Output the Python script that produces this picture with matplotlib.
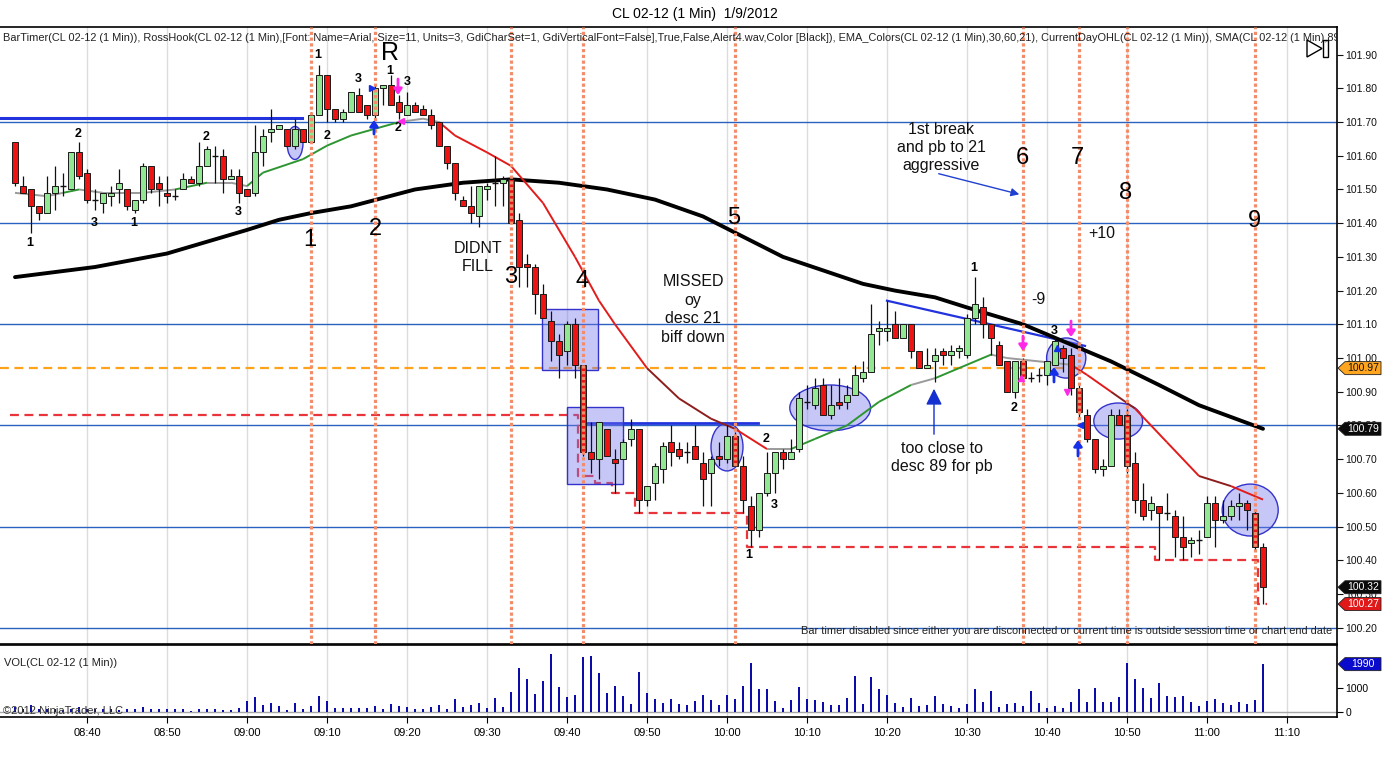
import matplotlib
matplotlib.use('Agg')
import matplotlib.pyplot as plt
import matplotlib.transforms as mtransforms
from matplotlib.patches import Rectangle, Ellipse, Polygon
from matplotlib.collections import LineCollection

plt.rcParams['font.family'] = ['Liberation Sans', 'DejaVu Sans']

# ---------------- data (1-minute bars, 08:31 .. 11:07) ----------------
opens = [101.64,101.51,101.50,101.45,101.43,101.49,101.51,101.50,101.61,101.55,
         101.47,101.46,101.48,101.50,101.50,101.44,101.47,101.57,101.52,101.49,
         101.48,101.50,101.53,101.52,101.57,101.60,101.60,101.53,101.54,101.50,
         101.49,101.61,101.67,101.68,101.68,101.63,101.68,101.64,101.72,101.84,
         101.74,101.71,101.73,101.78,101.75,101.72,101.80,101.81,101.76,101.72,
         101.75,101.74,101.72,101.70,101.63,101.58,101.47,101.45,101.42,101.50,
         101.52,101.52,101.53,101.41,101.28,101.27,101.19,101.11,101.05,101.02,
         101.10,100.98,100.72,100.70,100.79,100.70,100.70,100.76,100.79,100.58,
         100.63,100.67,100.75,100.73,100.72,100.74,100.69,100.66,100.71,100.70,
         100.77,100.68,100.56,100.49,100.60,100.66,100.72,100.70,100.73,100.87,
         100.86,100.92,100.83,100.87,100.87,100.89,100.94,100.96,101.08,101.08,
         101.10,101.06,101.10,101.02,100.97,100.99,101.02,101.01,101.02,101.01,
         101.12,101.15,101.10,101.04,100.99,100.90,100.99,100.94,100.95,100.95,
         100.98,101.03,101.01,100.91,100.83,100.76,100.67,100.68,100.83,100.83,
         100.69,100.58,100.55,100.56,100.54,100.53,100.47,100.45,100.46,100.47,
         100.57,100.52,100.53,100.56,100.57,100.54,100.44]
highs = [101.64,101.54,101.50,101.45,101.54,101.57,101.55,101.61,101.64,101.56,
         101.50,101.49,101.51,101.56,101.50,101.47,101.58,101.57,101.54,101.54,
         101.50,101.55,101.54,101.64,101.63,101.63,101.62,101.56,101.56,101.50,
         101.69,101.68,101.74,101.69,101.68,101.71,101.68,101.73,101.87,101.84,
         101.74,101.74,101.79,101.80,101.75,101.81,101.81,101.84,101.78,101.79,
         101.76,101.75,101.74,101.70,101.63,101.58,101.48,101.51,101.51,101.52,
         101.60,101.54,101.54,101.43,101.31,101.28,101.22,101.14,101.07,101.11,
         101.12,100.98,100.81,100.81,100.79,100.73,100.76,100.82,100.79,100.62,
         100.69,100.75,100.80,100.75,100.75,100.80,100.72,100.71,100.75,100.80,
         100.78,100.71,100.59,100.60,100.72,100.72,100.73,100.76,100.90,100.92,
         100.94,100.94,100.92,100.94,100.92,100.98,100.99,101.16,101.11,101.17,
         101.14,101.10,101.10,101.02,101.03,101.03,101.03,101.04,101.04,101.13,
         101.24,101.18,101.10,101.05,100.99,100.99,101.00,100.96,100.97,100.99,
         101.06,101.04,101.03,100.92,100.85,100.76,100.70,100.85,100.85,100.85,
         100.72,100.63,100.59,100.56,100.60,100.55,100.53,100.47,100.49,100.59,
         100.59,100.58,100.58,100.60,100.58,100.55,100.45]
lows = [101.51,101.49,101.37,101.41,101.43,101.44,101.48,101.50,101.53,101.46,
        101.44,101.43,101.45,101.46,101.44,101.43,101.46,101.49,101.45,101.46,
        101.47,101.50,101.52,101.51,101.57,101.52,101.49,101.53,101.46,101.48,
        101.48,101.57,101.64,101.68,101.63,101.62,101.64,101.64,101.72,101.70,
        101.70,101.70,101.73,101.73,101.71,101.71,101.75,101.75,101.71,101.72,
        101.73,101.72,101.68,101.63,101.56,101.47,101.45,101.40,101.39,101.47,
        101.45,101.45,101.40,101.21,101.21,101.13,101.12,100.99,100.94,100.98,
        100.94,100.71,100.66,100.64,100.71,100.60,100.70,100.74,100.54,100.56,
        100.58,100.63,100.68,100.70,100.69,100.70,100.56,100.56,100.68,100.69,
        100.68,100.54,100.44,100.47,100.59,100.60,100.67,100.70,100.72,100.85,
        100.85,100.83,100.82,100.85,100.85,100.89,100.93,100.96,101.04,101.05,
        101.06,101.06,101.00,100.97,100.97,100.93,100.98,100.98,101.00,101.00,
        101.10,101.06,101.01,100.98,100.90,100.88,100.93,100.93,100.93,100.92,
        100.98,100.96,100.89,100.82,100.75,100.66,100.65,100.68,100.80,100.66,
        100.54,100.52,100.52,100.40,100.52,100.41,100.40,100.41,100.42,100.47,
        100.44,100.51,100.52,100.52,100.49,100.43,100.27]
closes = [101.52,101.49,101.45,101.43,101.49,101.51,101.51,101.61,101.54,101.47,
          101.47,101.49,101.49,101.52,101.45,101.47,101.57,101.50,101.50,101.48,
          101.48,101.53,101.52,101.57,101.62,101.60,101.53,101.54,101.49,101.48,
          101.61,101.66,101.68,101.69,101.63,101.68,101.64,101.72,101.84,101.74,
          101.71,101.73,101.79,101.73,101.72,101.80,101.81,101.75,101.73,101.75,
          101.73,101.72,101.69,101.63,101.58,101.49,101.45,101.43,101.51,101.51,
          101.52,101.53,101.40,101.27,101.27,101.19,101.12,101.05,101.01,101.10,
          100.98,100.72,100.70,100.81,100.71,100.69,100.75,100.79,100.58,100.62,
          100.68,100.74,100.72,100.71,100.72,100.70,100.64,100.70,100.70,100.77,
          100.68,100.58,100.49,100.60,100.66,100.72,100.70,100.72,100.88,100.87,
          100.91,100.83,100.86,100.86,100.89,100.95,100.96,101.07,101.09,101.09,
          101.06,101.10,101.02,100.97,100.98,101.01,101.01,101.02,101.03,101.12,
          101.16,101.10,101.06,100.98,100.90,100.99,100.94,100.94,100.95,100.99,
          101.05,101.00,100.91,100.84,100.76,100.67,100.68,100.83,100.80,100.68,
          100.58,100.53,100.57,100.54,100.54,100.47,100.44,100.46,100.46,100.57,
          100.52,100.53,100.56,100.57,100.55,100.44,100.32]
volumes = [200,150,310,150,120,150,100,150,200,150,
           120,150,150,100,150,140,210,140,140,140,
           140,140,70,140,140,140,110,100,180,470,
           640,300,400,260,100,390,140,260,680,470,
           180,180,180,180,180,240,140,350,250,220,
           140,140,220,300,140,550,220,300,400,180,
           600,220,850,1840,1390,760,1300,2420,1050,640,
           720,2300,2340,1640,800,1100,680,350,1680,800,
           550,400,550,350,300,470,720,510,300,720,
           550,1100,2050,970,970,470,180,510,1050,550,
           510,430,300,300,600,1510,350,1470,970,720,
           390,220,600,260,300,680,350,260,180,350,
           970,430,890,220,350,390,260,890,390,180,
           260,180,430,970,430,1010,430,430,640,2050,
           1390,1010,600,1220,680,640,680,430,260,470,
           550,390,300,430,350,510,1990]

# EMA(21): bar index, value, colour of the segment ending there
ema_idx = [0,4,6,8,11,16,20,24,27,29,31,36,39,42,45,48,51,53,55,59,62,66,70,73,75,
           79,83,87,90,94,97,100,104,108,112,115,118,122,124,128,132,134,137,140,144,148,152,156]
ema_val = [101.49,101.48,101.49,101.50,101.49,101.49,101.50,101.52,101.52,101.51,101.55,
           101.59,101.63,101.66,101.68,101.70,101.71,101.70,101.66,101.61,101.57,101.46,
           101.30,101.17,101.10,100.97,100.88,100.82,100.79,100.73,100.73,100.76,100.80,
           100.87,100.92,100.94,100.97,101.01,101.00,100.99,100.98,100.95,100.90,100.85,
           100.75,100.65,100.62,100.58]
ema_seg = ['k','k','g','k','k','k','g','k','k','g','g','g','g','g','g','k','k',
           'r','r','r','r','r','r','r','r','d','d','d','r','k','g','g','g','g','k',
           'g','g','k','k','k','r','r','d','r','r','d','r']

# SMA(89)
sma_idx = [0,10,19,29,33,37,42,50,56,62,68,74,80,86,91,96,101,106,110,115,119,126,132,137,143,148,156]
sma_val = [101.24,101.27,101.31,101.38,101.41,101.43,101.45,101.50,101.52,101.53,101.52,101.50,
           101.47,101.42,101.36,101.30,101.26,101.22,101.20,101.18,101.15,101.10,101.04,
           100.99,100.92,100.86,100.79]

# current-day low (stepped) and current-day open
cdl_idx = [-0.6, 70.4, 72.5, 74.6, 77.5, 91.5, 142.5, 155.4, 156.5]
cdl_val = [100.83, 100.65, 100.63, 100.60, 100.54, 100.44, 100.40, 100.27, 100.27]
day_open = 100.97

time_labels = ['08:40','08:50','09:00','09:10','09:20','09:30','09:40','09:50',
               '10:00','10:10','10:20','10:30','10:40','10:50','11:00','11:10']
time_pos = [9 + 10 * k for k in range(len(time_labels))]

marker_bars = [37, 45, 62, 71, 90, 126, 133, 139, 155]
price_lines = [101.70, 101.40, 101.10, 100.80, 100.50, 100.20]

# ---------------- figure ----------------
W, H = 1391, 763
fig = plt.figure(figsize=(W / 100, H / 100), dpi=100)
fig.patch.set_facecolor('white')

def fx(x):
    return x / W

def fy(y):
    return 1 - y / H

ax = fig.add_axes([0, fy(644), fx(1337), (644 - 27) / H])
axv = fig.add_axes([0, fy(717), fx(1337), (717 - 645) / H], sharex=ax)

YTOP, YBOT = 101.982, 100.1516
XL, XR = -1.875, 165.25
ax.set_xlim(XL, XR)
ax.set_ylim(YBOT, YTOP)
PPU = (644 - 27) / (YTOP - YBOT)

def D(x, y):
    return ((x - 15) / 8.0, 101.10 + (324.3 - y) / 337.1)

n = len(closes)
xs = list(range(n))

# grid
for tp in time_pos:
    ax.axvline(tp, color='#DCDCDC', lw=1, zorder=0)
    axv.axvline(tp, color='#DCDCDC', lw=1, zorder=0)

for pl in price_lines:
    ax.axhline(pl, color='#2A62C0', lw=1, zorder=1)

# day open / low lines
ax.plot([XL, 156.3], [day_open, day_open], color='#FFA31A', lw=1.6, ls=(0, (4, 2.5)), zorder=2)
ax.plot(cdl_idx, cdl_val, color='#E8343A', lw=1.6, ls=(0, (4, 2.5)), drawstyle='steps-post', zorder=2)

# drawn lines
ax.plot([XL, 35.9], [101.712, 101.712], color='#2233DD', lw=2.2, zorder=3)
ax.plot([71.25, 92.9], [100.807, 100.807], color='#2233DD', lw=2.0, zorder=3)
ax.plot([109, 133.75], [101.17, 101.036], color='#2233DD', lw=1.6, zorder=3)

# rectangles and ellipses
fc = (0.45, 0.45, 0.92, 0.40)
ec = (0.2, 0.2, 0.8)
for (x0, x1, y0, y1) in [(65.9, 72.9, 100.964, 101.145), (69.0, 76.0, 100.626, 100.855)]:
    ax.add_patch(Rectangle((x0, y0), x1 - x0, y1 - y0, fc=fc, ec=ec, lw=1, zorder=4))
for (cx, cy, w, h) in [(35.0, 101.638, 2.0, 0.098), (89.0, 100.736, 4.0, 0.142),
                       (101.9, 100.852, 10.1, 0.136), (131.4, 101.000, 4.9, 0.119),
                       (137.9, 100.813, 6.1, 0.107), (154.4, 100.549, 7.0, 0.154)]:
    ax.add_patch(Ellipse((cx, cy), w, h, fc=fc, ec=ec, lw=1, zorder=4))

# moving averages
ax.plot(sma_idx, sma_val, color='black', lw=2.8, zorder=5, solid_capstyle='round',
        solid_joinstyle='round')
cmap = {'g': '#2E9630', 'r': '#E21B1B', 'd': '#8E1E1E', 'k': '#9A9A9A'}
segs = [[(ema_idx[k], ema_val[k]), (ema_idx[k + 1], ema_val[k + 1])] for k in range(len(ema_idx) - 1)]
ax.add_collection(LineCollection(segs, colors=[cmap[c] for c in ema_seg], linewidths=1.4, zorder=5))

# candles
bw = 0.75
for i in xs:
    o, h, l, c = opens[i], highs[i], lows[i], closes[i]
    ax.vlines(i, l, h, color='#111111', lw=0.9, zorder=6)
    if abs(c - o) < 0.004:
        ax.hlines(o, i - bw / 2, i + bw / 2, color='#111111', lw=1.0, zorder=7)
    else:
        col = '#92E892' if c > o else '#EE1414'
        ax.add_patch(Rectangle((i - bw / 2, min(o, c)), bw, abs(c - o), fc=col,
                               ec='#1A1A1A', lw=0.7, zorder=7))

# vertical marker lines
for mb in marker_bars:
    ax.axvline(mb, color='#F28C6A', lw=2.3, ls=(0, (1, 0.8)), zorder=8)

# ---------------- text annotations ----------------
big = [('1', 310, 240), ('2', 375, 229), ('3', 511, 277), ('4', 582, 281), ('5', 734, 218),
       ('6', 1022, 158), ('7', 1077, 158), ('8', 1126, 193), ('9', 1254, 221)]
for t, x, y in big:
    ax.text(*D(x, y), t, fontsize=17, ha='center', va='center', zorder=9)
ax.text(*D(390, 53), 'R', fontsize=18, ha='center', va='center', zorder=9)

small = [('1', 30, 243), ('2', 78, 134), ('3', 94, 223), ('1', 134, 223), ('2', 206, 137),
         ('3', 238, 212), ('1', 318, 55), ('2', 327, 136), ('3', 358, 79), ('1', 390, 71),
         ('3', 407, 82), ('2', 398, 128), ('2', 766, 439), ('3', 774, 505), ('1', 749, 555),
         ('1', 974, 268), ('2', 1014, 408), ('3', 1054, 331)]
for t, x, y in small:
    ax.text(*D(x, y), t, fontsize=9, fontweight='bold', ha='center', va='center', zorder=9)

notes = [('DIDNT', 478, 248), ('FILL', 478, 266),
         ('MISSED', 693, 281), ('oy', 693, 300), ('desc 21', 693, 318), ('biff down', 693, 337),
         ('1st break', 941, 129), ('and pb to 21', 941, 147), ('aggressive', 941, 165),
         ('-9', 1038, 299), ('+10', 1102, 233),
         ('too close to', 942, 448), ('desc 89 for pb', 942, 466)]
for t, x, y in notes:
    ax.text(*D(x, y), t, fontsize=11.5, ha='center', va='center', color='#111111', zorder=9)

ax.annotate('', xy=D(1022, 195), xytext=D(936, 173),
            arrowprops=dict(arrowstyle='-|>', color='#2040D0', lw=1.0, mutation_scale=12), zorder=9)
ax.annotate('', xy=D(934, 386), xytext=D(934, 437),
            arrowprops=dict(arrowstyle='-|>,head_length=0.7,head_width=0.35', color='#1530D0',
                            lw=1.0, mutation_scale=14), zorder=9)

for (x, y0, y1) in [(374, 134, 120), (1054, 382, 367), (1078, 456, 440)]:
    ax.annotate('', xy=D(x, y1), xytext=D(x, y0),
                arrowprops=dict(arrowstyle='-|>,head_length=0.5,head_width=0.35', color='#1530E8',
                                lw=2.0, mutation_scale=7, shrinkA=0, shrinkB=0), zorder=9)
for (x, y0, y1) in [(398, 79, 95), (1023, 336, 351), (1071, 321, 337)]:
    ax.annotate('', xy=D(x, y1), xytext=D(x, y0),
                arrowprops=dict(arrowstyle='-|>,head_length=0.5,head_width=0.35', color='#FF28E6',
                                lw=2.0, mutation_scale=7, shrinkA=0, shrinkB=0), zorder=9)
for (x, y, m, c) in [(372, 88, '>', '#1530E8'), (401, 121, '<', '#FF28E6'), (1021, 378, '^', '#FF28E6'),
                     (1067, 392, 'v', '#FF28E6'), (1080, 425, '<', '#1530E8'), (1057, 348, '^', '#1530E8')]:
    ax.plot(*D(x, y), marker=m, color=c, ms=5, zorder=9)

desc = ('BarTimer(CL 02-12 (1 Min)), RossHook(CL 02-12 (1 Min),[Font: Name=Arial, Size=11, Units=3, '
        'GdiCharSet=1, GdiVerticalFont=False],True,False,Alert4.wav,Color [Black]), '
        'EMA_Colors(CL 02-12 (1 Min),30,60,21), CurrentDayOHL(CL 02-12 (1 Min)), SMA(CL 02-12 (1 Min),89)')
ax.text(*D(3, 38), desc, fontsize=7.93, ha='left', va='center', color='#222222', clip_on=True, zorder=9)
ax.text(*D(1332, 631), 'Bar timer disabled since either you are disconnected or current time is '
        'outside session time or chart end date', fontsize=7.9, ha='right', va='center',
        color='#222222', zorder=9)

fig.text(fx(695), fy(14), 'CL 02-12 (1 Min)  1/9/2012', fontsize=10, ha='center', va='center')

# play/stop icon
fig.add_artist(Polygon([(fx(1307), fy(40)), (fx(1307), fy(57)), (fx(1322), fy(48.5))], closed=True,
                       fill=False, ec='black', lw=1, transform=fig.transFigure))
fig.add_artist(Rectangle((fx(1323), fy(57)), fx(5), 17 / H, fill=False, ec='black', lw=1,
                         transform=fig.transFigure))

# ---------------- axes styling ----------------
ax.yaxis.tick_right()
ax.set_yticks([round(100.2 + 0.1 * k, 2) for k in range(18)])
ax.yaxis.set_major_formatter(matplotlib.ticker.FormatStrFormatter('%.2f'))
ax.tick_params(axis='y', labelsize=7.5, length=4, width=0.8, pad=2, colors='#111111')
ax.tick_params(axis='x', which='both', bottom=False, labelbottom=False)
ax.set_xticks(time_pos)
ax.spines['left'].set_visible(False)
for s in ['top', 'right', 'bottom']:
    ax.spines[s].set_linewidth(1.2)

def tag(a, yv, txt, face, tcol, ppu, hpx=13):
    tr = mtransforms.blended_transform_factory(a.transAxes, a.transData)
    aw = 1337.0
    h = hpx / ppu / 2
    x_tip, x_b, x_r = 1 + 1 / aw, 1 + 8 / aw, 1 + 44 / aw
    a.add_patch(Polygon([(x_tip, yv), (x_b, yv + h), (x_r, yv + h), (x_r, yv - h), (x_b, yv - h)],
                        closed=True, fc=face, ec='#222222', lw=0.6, transform=tr, clip_on=False, zorder=20))
    a.text(1 + 26 / aw, yv, txt, transform=tr, fontsize=7.5, color=tcol, ha='center', va='center',
           clip_on=False, zorder=21)

tag(ax, 100.97, '100.97', '#FFA51F', '#111111', PPU)
tag(ax, 100.79, '100.79', '#0A0A0A', 'white', PPU)
tag(ax, closes[-1], '%.2f' % closes[-1], '#0A0A0A', 'white', PPU)
tag(ax, lows[-1], '%.2f' % lows[-1], '#E01818', 'white', PPU)

# volume panel
VB, VT = -194, 2781
axv.set_ylim(VB, VT)
axv.axhline(0, color='#A8A8A8', lw=1, zorder=1)
axv.bar(xs, volumes, width=0.36, color='#0C0CA8', zorder=3)
axv.yaxis.tick_right()
axv.set_yticks([0, 1000])
axv.tick_params(axis='y', labelsize=7.5, length=4, width=0.8, pad=2)
axv.set_xticks(time_pos)
axv.set_xticklabels(time_labels)
axv.tick_params(axis='x', labelsize=8, length=4, width=0.8, pad=4, direction='out')
axv.spines['left'].set_visible(False)
for s in ['top', 'right', 'bottom']:
    axv.spines[s].set_linewidth(1.2)
axv.set_xlim(XL, XR)
tag(axv, volumes[-1], str(volumes[-1]), '#0A0ACC', 'white', (717 - 645) / (VT - VB))
axv.text((4 - 15) / 8.0, (712.3 - 663) / 0.0242, 'VOL(CL 02-12 (1 Min))', fontsize=8,
         ha='left', va='center', color='#222222', zorder=5)
axv.text((3 - 15) / 8.0, (712.3 - 711) / 0.0242, '\u00a92012 NinjaTrader, LLC', fontsize=8,
         ha='left', va='center', color='#333333', zorder=5)

fig.savefig('out.png', dpi=100, facecolor='white')
